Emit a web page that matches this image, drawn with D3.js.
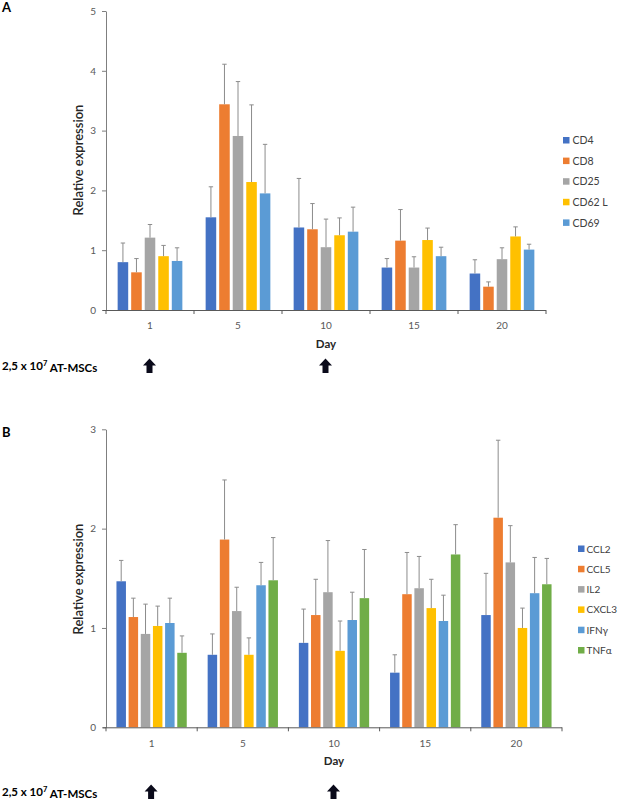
<!DOCTYPE html>
<html>
<head>
<meta charset="utf-8">
<script src="https://cdn.jsdelivr.net/npm/d3@7"></script>
<style>
  html, body { margin: 0; padding: 0; background: #fff; }
  svg { display: block; font-family: Lato, "Open Sans", "Liberation Sans", sans-serif; }
</style>
</head>
<body>
<svg id="chart" width="618" height="799"></svg>
<script>
// ---------- DATA ----------
const days = ["1", "5", "10", "15", "20"];
const arrowDays = ["1", "10"];

// Panel A
const seriesA = ["CD4", "CD8", "CD25", "CD62L", "CD69"];
const seriesALabels = ["CD4", "CD8", "CD25", "CD62 L", "CD69"];
const valuesA = [
  [0.80, 1.55, 1.38, 0.71, 0.61], // CD4
  [0.63, 3.44, 1.35, 1.16, 0.39], // CD8
  [1.21, 2.91, 1.05, 0.71, 0.85], // CD25
  [0.90, 2.14, 1.25, 1.17, 1.23], // CD62L
  [0.82, 1.95, 1.31, 0.90, 1.01]  // CD69
];
const errTopA = [
  [1.12, 2.06, 2.20, 0.86, 0.84],
  [0.86, 4.11, 1.78, 1.68, 0.47],
  [1.43, 3.82, 1.52, 0.89, 1.04],
  [1.08, 3.43, 1.54, 1.37, 1.39],
  [1.04, 2.77, 1.72, 1.05, 1.10]
];
const yTicksA = [0, 1, 2, 3, 4, 5];

// Panel B
const seriesB = ["CCL2", "CCL5", "IL2", "CXCL3", "IFNγ", "TNFα"];
const valuesB = [
  [1.47, 0.73, 0.85, 0.55, 1.13], // CCL2
  [1.11, 1.89, 1.13, 1.34, 2.11], // CCL5
  [0.94, 1.17, 1.36, 1.40, 1.66], // IL2
  [1.02, 0.73, 0.77, 1.20, 1.00], // CXCL3
  [1.05, 1.43, 1.08, 1.07, 1.35], // IFNγ
  [0.75, 1.48, 1.30, 1.74, 1.44]  // TNFα
];
const errTopB = [
  [1.68, 0.94, 1.19, 0.73, 1.55],
  [1.30, 2.49, 1.49, 1.76, 2.89],
  [1.24, 1.41, 1.88, 1.72, 2.03],
  [1.22, 0.90, 1.07, 1.49, 1.20],
  [1.30, 1.66, 1.36, 1.33, 1.71],
  [0.92, 1.91, 1.79, 2.04, 1.70]
];
const yTicksB = [0, 1, 2, 3];

const colors = ["#4472C4", "#ED7D31", "#A5A5A5", "#FFC000", "#5B9BD5", "#70AD47"];

// ---------- DRAW ----------
const svg = d3.select("#chart");

function panel(cfg) {
  const g = svg.append("g");
  const x0 = d3.scaleBand().domain(days).range([cfg.left, cfg.right]).paddingInner(0).paddingOuter(0);
  const x1 = d3.scaleBand().domain(cfg.series).range([0, x0.bandwidth()]).paddingInner(0.22).paddingOuter(0.86);
  const y = d3.scaleLinear().domain([0, cfg.yMax]).range([cfg.yBottom, cfg.yTop]);

  // y axis
  const ya = g.append("g").attr("transform", `translate(${cfg.left},0)`)
    .call(d3.axisLeft(y).tickValues(cfg.yTicks).tickFormat(d3.format("d")).tickSize(4).tickSizeOuter(0).tickPadding(6));
  ya.select(".domain").attr("stroke", "#7f7f7f");
  ya.selectAll(".tick line").attr("stroke", "#7f7f7f");
  ya.selectAll(".tick text").attr("fill", "#595959").attr("font-size", "10px")
    .attr("font-family", "Lato, 'Open Sans', sans-serif");

  // bars
  cfg.series.forEach((s, i) => {
    const sg = g.append("g");
    sg.selectAll("rect").data(days.map((d, j) => ({ d, v: cfg.values[i][j], e: cfg.err[i][j] })))
      .join("rect")
      .attr("x", p => x0(p.d) + x1(s))
      .attr("y", p => y(p.v))
      .attr("width", x1.bandwidth())
      .attr("height", p => y(0) - y(p.v))
      .attr("fill", colors[i]);
    // error bars
    const eg = sg.append("g").attr("stroke", "#8c8c8c").attr("stroke-width", 1);
    days.forEach((d, j) => {
      const cx = x0(d) + x1(s) + x1.bandwidth() / 2;
      eg.append("line").attr("x1", cx).attr("x2", cx).attr("y1", y(cfg.values[i][j])).attr("y2", y(cfg.err[i][j]));
      eg.append("line").attr("x1", cx - 2.2).attr("x2", cx + 2.2).attr("y1", y(cfg.err[i][j])).attr("y2", y(cfg.err[i][j]));
    });
  });

  // x axis
  const xa = g.append("g").attr("stroke", "#595959").attr("stroke-width", 1);
  xa.append("line").attr("x1", cfg.left - 3).attr("x2", cfg.right).attr("y1", y(0) + 0.5).attr("y2", y(0) + 0.5);
  const bounds = days.map(d => x0(d)).concat([cfg.right]);
  bounds.forEach(b => {
    xa.append("line").attr("x1", b).attr("x2", b).attr("y1", y(0)).attr("y2", y(0) + 4);
  });
  g.selectAll(".xl").data(days).join("text").attr("class", "xl")
    .attr("x", d => x0(d) + x0.bandwidth() / 2)
    .attr("y", y(0) + 16)
    .attr("dy", "0.32em")
    .attr("text-anchor", "middle").attr("fill", "#595959").attr("font-size", "10px").text(d => d);

  // axis titles
  g.append("text").attr("x", (cfg.left + cfg.right) / 2).attr("y", y(0) + 34).attr("dy", "0.32em")
    .attr("text-anchor", "middle").attr("font-weight", "bold").attr("font-size", "11.5px").attr("fill", "#262626")
    .text("Day");
  g.append("text").attr("transform", `translate(79,${cfg.yLabelCenter}) rotate(-90)`).attr("dy", "0.32em")
    .attr("text-anchor", "middle").attr("font-size", "13px").attr("fill", "#262626").attr("font-weight", 600)
    .text("Relative expression");

  // panel letter
  g.append("text").attr("x", 2).attr("y", cfg.letterY).attr("dy", "0.35em")
    .attr("font-weight", "bold").attr("font-size", "13px").attr("fill", "#000").text(cfg.letter);

  // legend
  const lg = g.append("g");
  cfg.legendLabels.forEach((s, i) => {
    const cy = cfg.legendY + i * cfg.legendStep;
    lg.append("rect").attr("x", cfg.legendX).attr("y", cy - 3.5).attr("width", 6.5).attr("height", 6.5).attr("fill", colors[i]);
    lg.append("text").attr("x", cfg.legendX + cfg.legendGap).attr("y", cy).attr("dy", "0.35em")
      .attr("font-size", cfg.legendFont).attr("fill", "#404040").text(s);
  });

  // MSC annotation
  const at = g.append("text").attr("x", 2).attr("y", cfg.mscY).attr("dy", "0.35em")
    .attr("font-weight", "bold").attr("font-size", "11.5px").attr("fill", "#000");
  at.append("tspan").text("2,5 x 10");
  at.append("tspan").attr("font-size", "7.5px").attr("dy", "-0.6em").text("7");
  at.append("tspan").attr("dy", "0.6em").text(" AT-MSCs");

  // arrows
  arrowDays.forEach(d => {
    const cx = x0(d) + x0.bandwidth() / 2 - 0.5;
    const cy = cfg.mscY;
    const pts = [[0, -7.5], [6.5, -0.5], [3, -0.5], [3, 7], [-3, 7], [-3, -0.5], [-6.5, -0.5]];
    g.append("path").attr("d", "M" + pts.map(p => [cx + p[0], cy + p[1]].join(",")).join("L") + "Z")
      .attr("fill", "#0a0a1a");
  });
}

panel({
  left: 106, right: 546, yTop: 11, yBottom: 310, yMax: 5, yTicks: yTicksA,
  series: seriesA, legendLabels: seriesALabels, values: valuesA, err: errTopA,
  yLabelCenter: 160, letter: "A", letterY: 7,
  legendX: 563, legendY: 140.5, legendStep: 20.6, legendGap: 9.5, legendFont: "10.5px", mscY: 366
});
panel({
  left: 106, right: 562, yTop: 429.3, yBottom: 727.3, yMax: 3, yTicks: yTicksB,
  series: seriesB, legendLabels: seriesB, values: valuesB, err: errTopB,
  yLabelCenter: 579, letter: "B", letterY: 432.5,
  legendX: 578, legendY: 549, legendStep: 20.3, legendGap: 8.5, legendFont: "10px", mscY: 792
});
</script>
</body>
</html>
